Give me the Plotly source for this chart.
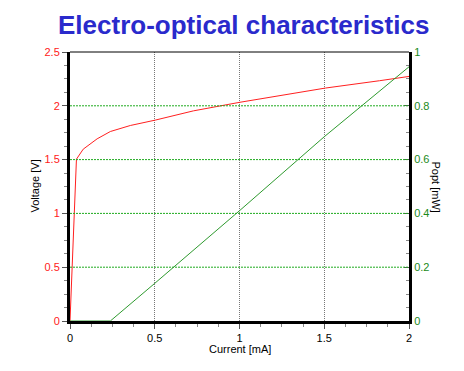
import plotly.graph_objects as go

# Data
current_v = [0, 0.008, 0.038, 0.078, 0.16, 0.238, 0.356, 0.503, 0.728, 1.003, 1.25, 1.507, 1.826, 1.925, 2.0]
voltage = [0, 0.3, 1.504, 1.597, 1.693, 1.761, 1.817, 1.867, 1.953, 2.033, 2.10, 2.165, 2.233, 2.258, 2.273]

current_p = [0, 0.238, 0.5, 1.0, 1.5, 2.0]
popt = [0, 0, 0.14, 0.41, 0.685, 0.945]

voltage_grid = [0.5, 1.0, 1.5, 2.0]

title_text = "Electro-optical characteristics"
font_family = "Arial, Liberation Sans, sans-serif"

fig = go.Figure()
fig.add_trace(go.Scatter(x=current_v, y=voltage, mode="lines",
                         line=dict(color="#ff2020", width=1), yaxis="y", showlegend=False))
fig.add_trace(go.Scatter(x=current_p, y=popt, mode="lines",
                         line=dict(color="#2e9a2e", width=1), yaxis="y2", showlegend=False))

shapes = [dict(type="line", xref="paper", yref="paper", x0=0, x1=1, y0=1, y1=1,
               line=dict(color="black", width=1))]
for v in voltage_grid:
    shapes.append(dict(type="line", xref="paper", yref="y", x0=0, x1=1, y0=v, y1=v, layer="above",
                       line=dict(color="#1faa1f", width=1, dash="2px,1px")))

fig.update_layout(
    width=464, height=371,
    margin=dict(l=61.5, r=62.5, t=43.5, b=57.5),
    paper_bgcolor="white", plot_bgcolor="white",
    font=dict(family=font_family, size=11, color="black"),
    xaxis=dict(range=[0, 2], dtick=0.5, tick0=0, showline=True, linecolor="black", linewidth=3,
               ticks="outside", ticklen=5, tickcolor="#555555",
               minor=dict(dtick=0.125, ticks="outside", ticklen=3, tickcolor="#888888", showgrid=False),
               showgrid=True, gridcolor="#777777", griddash="1px,1px", gridwidth=1,
               zeroline=False, tickfont=dict(color="black", size=11)),
    yaxis=dict(range=[0, 2.5], dtick=0.5, tick0=0, showline=True, linecolor="black", linewidth=3,
               ticks="outside", ticklen=5, tickcolor="#555555",
               minor=dict(dtick=0.125, ticks="outside", ticklen=3, tickcolor="#888888", showgrid=False),
               showgrid=False, zeroline=False, tickfont=dict(color="#ff2020", size=11)),
    yaxis2=dict(range=[0, 1], dtick=0.2, tick0=0, overlaying="y", side="right",
                showline=True, linecolor="black", linewidth=3,
                ticks="inside", ticklen=5, tickcolor="#555555",
                minor=dict(dtick=0.05, ticks="inside", ticklen=3, tickcolor="#888888", showgrid=False),
                showgrid=False, zeroline=False, tickfont=dict(color="#1a8a1a", size=11)),
    annotations=[
        dict(text="<b>" + title_text + "</b>", xref="paper", yref="paper", x=(244 - 69.5) / 340, y=1,
             yshift=27, xanchor="center", yanchor="middle", showarrow=False,
             font=dict(size=26, color="#2a2acc", family=font_family)),
        dict(text="Current [mA]", xref="paper", yref="paper", x=0.5, y=0, yshift=-28,
             xanchor="center", yanchor="middle", showarrow=False, font=dict(size=11)),
        dict(text="Voltage [V]", xref="paper", yref="paper", x=0, xshift=-36, y=0.5,
             xanchor="center", yanchor="middle", textangle=-90, showarrow=False, font=dict(size=11)),
        dict(text="Popt [mW]", xref="paper", yref="paper", x=1, xshift=27, y=0.5,
             xanchor="center", yanchor="middle", textangle=90, showarrow=False, font=dict(size=11)),
    ],
    shapes=shapes,
)

fig.write_html("out.html")
